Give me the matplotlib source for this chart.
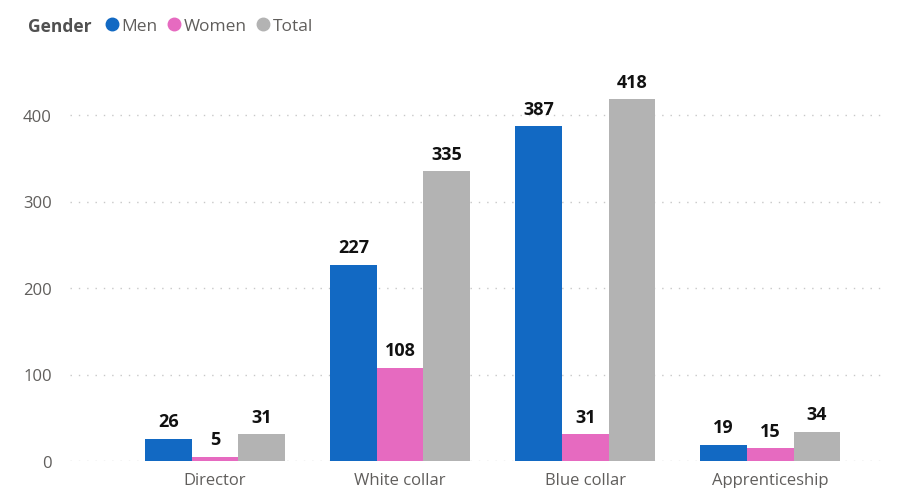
import matplotlib.pyplot as plt
from matplotlib.lines import Line2D
import numpy as np

plt.rcParams['font.family'] = ['Open Sans', 'DejaVu Sans']

categories = ['Director', 'White collar', 'Blue collar', 'Apprenticeship']
men = [26, 227, 387, 19]
women = [5, 108, 31, 15]
total = [31, 335, 418, 34]
series_names = ['Men', 'Women', 'Total']
colors = ['#1269C3', '#E66AC0', '#B3B3B3']

W, H = 899, 489
fig = plt.figure(figsize=(W / 100, H / 100), dpi=100)
# axes placed in pixel terms: left 70, right 885, bottom 462, top 60
ax = fig.add_axes([70 / W, (H - 462) / H, (885 - 70) / W, (462 - 60) / H])

x = np.arange(len(categories))
bw = 0.252
for i, (vals, col) in enumerate(zip([men, women, total], colors)):
    pos = x + (i - 1) * bw
    ax.bar(pos, vals, width=bw, color=col, zorder=3)
    for p, v in zip(pos, vals):
        ax.annotate(str(v), (p, v), xytext=(0, 6), textcoords='offset points',
                    ha='center', va='bottom', fontsize=13, fontweight='bold',
                    color='#111111')

ax.set_xlim(-0.784, 3.62)
ax.set_ylim(0, (462 - 60) / 0.865)
ax.set_yticks([0, 100, 200, 300, 400])
ax.set_xticks(x)
ax.set_xticklabels(categories)
ax.tick_params(axis='both', length=0, labelsize=12, colors='#605E5C')
ax.tick_params(axis='y', pad=13)
ax.tick_params(axis='x', pad=8)
ax.yaxis.grid(True, color='#C8C8C8', linestyle=(0, (1, 5)), linewidth=1, zorder=0)
for s in ax.spines.values():
    s.set_visible(False)

fig.text(28 / W, 1 - 27 / H, 'Gender', fontsize=12.5, fontweight='bold',
         color='#505050', va='center', ha='left')
handles = [Line2D([], [], marker='o', linestyle='', markersize=9,
                  markerfacecolor=c, markeredgecolor=c) for c in colors]
fig.legend(handles, series_names, loc='center left',
           bbox_to_anchor=(103 / W, 1 - 27 / H), ncol=3, frameon=False,
           handletextpad=0.05, columnspacing=0.45, handlelength=1.0,
           borderaxespad=0, borderpad=0, fontsize=12.5, labelcolor='#605E5C')

fig.savefig('out.png', dpi=100)
